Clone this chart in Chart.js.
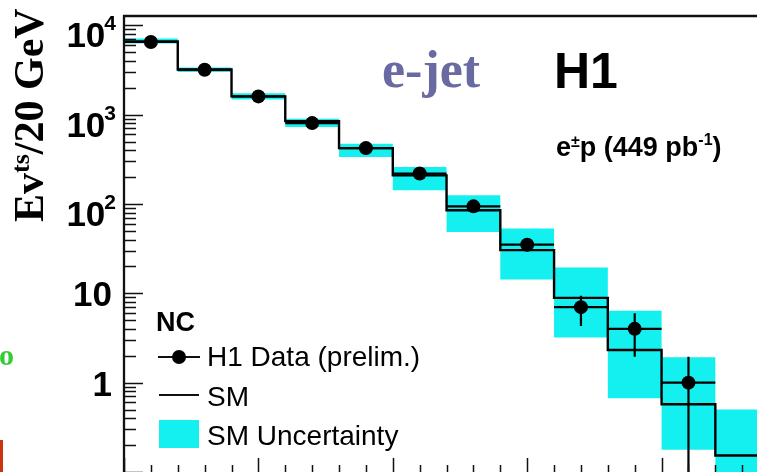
<!DOCTYPE html>
<html>
<head>
<meta charset="utf-8">
<script src="https://cdn.jsdelivr.net/npm/chart.js@4.4.1/dist/chart.umd.min.js"></script>
<style>
  html, body { margin: 0; padding: 0; background: #fff; }
  #wrap { width: 757px; height: 472px; position: relative; overflow: hidden; }
</style>
</head>
<body>
<div id="wrap"><canvas id="chart" width="757" height="472"></canvas></div>
<script>
// ── H1 e-jet spectrum ──
const binEdges = [100, 120, 140, 160, 180, 200, 220, 240, 260, 280, 300, 320, 340];
const dataCenters = [110, 130, 150, 170, 190, 210, 230, 250, 270, 290, 310];
const dataCounts = [6500, 3175, 1600, 804, 422, 219, 94, 35, 7, 4, 1];
const dataErrLow = [6400, 3120, 1560, 776, 402, 205, 85, 29.5, 4.3, 1.95, 0.01];
const dataErrHigh = [6600, 3230, 1640, 832, 442, 234, 104, 41, 9.4, 6.0, 1.95];
const smValues = [6600, 3200, 1600, 846, 422, 209, 85, 30.4, 8.9, 2.32, 0.574, 0.153];
const smBandLow = [6250, 3000, 1480, 725, 335, 142, 48.6, 14.3, 3.2, 0.67, 0.177, 0.05];
const smBandHigh = [7100, 3370, 1730, 900, 473, 259, 125, 53, 19.5, 6.4, 1.92, 0.5];
const yTickValues = [1, 10, 100, 1000, 10000];
const yTickBase = ['1', '10', '10', '10', '10'];
const yTickSup = ['', '', '2', '3', '4'];

const CYAN = '#14f0f0';

// histogram outline: one point per bin edge, last value repeated
const stepPoints = vals => binEdges.map((x, i) => ({ x, y: vals[Math.min(i, vals.length - 1)] }));

const errorBars = {
  id: 'errorBars',
  afterDatasetsDraw(chart) {
    const { ctx, chartArea: a, scales: { x, y } } = chart;
    ctx.save();
    ctx.beginPath(); ctx.rect(a.left, a.top, a.right - a.left, a.bottom - a.top); ctx.clip();
    ctx.strokeStyle = '#000';
    ctx.lineWidth = 2.2;
    dataCenters.forEach((c, i) => {
      const py = y.getPixelForValue(dataCounts[i]);
      ctx.beginPath();
      ctx.moveTo(x.getPixelForValue(binEdges[i]), py);
      ctx.lineTo(x.getPixelForValue(binEdges[i + 1]), py);
      const px = x.getPixelForValue(c);
      ctx.moveTo(px, y.getPixelForValue(dataErrLow[i]));
      ctx.lineTo(px, y.getPixelForValue(dataErrHigh[i]));
      ctx.stroke();
    });
    ctx.restore();
  }
};

const frame = {
  id: 'frame',
  afterDraw(chart) {
    const { ctx, chartArea: a, scales: { x, y } } = chart;
    ctx.save();
    ctx.strokeStyle = '#111';
    ctx.lineWidth = 2.3;
    ctx.beginPath();
    ctx.moveTo(a.left, a.bottom + 2); ctx.lineTo(a.left, a.top); ctx.lineTo(a.right + 5, a.top);
    ctx.stroke();

    // y ticks, inside the frame
    ctx.lineWidth = 1.5;
    ctx.beginPath();
    for (let d = -1; d <= 4; d++) {
      for (let k = 1; k <= 9; k++) {
        const v = k * Math.pow(10, d);
        if (v < y.min || v > y.max) continue;
        const py = Math.round(y.getPixelForValue(v)) + 0.5;
        ctx.moveTo(a.left, py);
        ctx.lineTo(a.left + (k === 1 ? 19 : 12), py);
      }
    }
    // x ticks, from the bottom
    for (let v = 100; v <= x.max; v += 10) {
      const px = Math.round(x.getPixelForValue(v)) + 0.5;
      ctx.moveTo(px, a.bottom);
      ctx.lineTo(px, a.bottom - (v % 50 === 0 ? 14 : 7));
    }
    ctx.stroke();

    // y tick labels
    ctx.fillStyle = '#000';
    ctx.textBaseline = 'alphabetic';
    yTickValues.forEach((v, i) => {
      const py = y.getPixelForValue(v);
      if (yTickSup[i]) {
        ctx.font = 'bold 21px "Liberation Sans", Arial, sans-serif';
        const ws = ctx.measureText(yTickSup[i]).width;
        ctx.textAlign = 'left';
        ctx.fillText(yTickSup[i], 116 - ws, py + 5);
        ctx.font = 'bold 35px "Liberation Sans", Arial, sans-serif';
        ctx.textAlign = 'right';
        ctx.fillText(yTickBase[i], 117 - ws, py + 22);
      } else {
        ctx.font = 'bold 35px "Liberation Sans", Arial, sans-serif';
        ctx.textAlign = 'right';
        ctx.fillText(yTickBase[i], 112, py + 13);
      }
    });

    // y axis title
    ctx.save();
    ctx.translate(43, 222);
    ctx.rotate(-Math.PI / 2);
    ctx.textAlign = 'left';
    ctx.font = 'bold 42px "Liberation Serif", "Times New Roman", serif';
    ctx.fillText('Ev', 0, 0);
    let off = ctx.measureText('Ev').width;
    ctx.font = 'bold 26px "Liberation Serif", "Times New Roman", serif';
    ctx.fillText('ts', off, -14);
    off += ctx.measureText('ts').width;
    ctx.font = 'bold 42px "Liberation Serif", "Times New Roman", serif';
    ctx.fillText('/20 GeV', off, 0);
    ctx.restore();

    // labels inside the frame
    ctx.textAlign = 'left';
    ctx.fillStyle = '#6a6aa2';
    ctx.font = 'bold 52px "Liberation Serif", "Times New Roman", serif';
    ctx.fillText('e-jet', 382, 87);
    ctx.fillStyle = '#000';
    ctx.font = 'bold 50px "Liberation Sans", Arial, sans-serif';
    ctx.fillText('H1', 554, 88);

    let tx = 556;
    const big = 'bold 27px "Liberation Sans", Arial, sans-serif';
    const small = 'bold 16px "Liberation Sans", Arial, sans-serif';
    [['e', big, 0], ['±', small, -9], ['p (449 pb', big, 0], ['-1', small, -11], [')', big, 0]].forEach(([s, f, dy]) => {
      ctx.font = f;
      ctx.fillText(s, tx, 156 + dy);
      tx += ctx.measureText(s).width;
    });

    // legend
    ctx.font = 'bold 27px "Liberation Sans", Arial, sans-serif';
    ctx.fillText('NC', 156, 331);
    ctx.font = '28px "Liberation Sans", Arial, sans-serif';
    ctx.lineWidth = 2.2;
    ctx.beginPath();
    ctx.moveTo(158, 357); ctx.lineTo(200, 357);
    ctx.moveTo(159, 395); ctx.lineTo(199, 395);
    ctx.stroke();
    ctx.beginPath(); ctx.arc(179, 357, 7, 0, Math.PI * 2); ctx.fill();
    ctx.fillStyle = CYAN;
    ctx.fillRect(159, 420, 40, 28);
    ctx.fillStyle = '#000';
    ctx.fillText('H1 Data (prelim.)', 207, 366);
    ctx.fillText('SM', 207, 406);
    ctx.fillText('SM Uncertainty', 207, 445);

    // bits of the surrounding slide
    ctx.fillStyle = '#33cc33';
    ctx.font = 'bold 30px "Liberation Serif", serif';
    ctx.fillText('o', -1, 365);
    ctx.fillStyle = '#cc3311';
    ctx.fillRect(0, 440, 3, 32);
    ctx.restore();
  }
};

new Chart(document.getElementById('chart'), {
  type: 'line',
  data: {
    datasets: [
      {
        label: 'H1 Data (prelim.)',
        data: dataCenters.map((x, i) => ({ x, y: dataCounts[i] })),
        showLine: false, pointRadius: 7, pointBorderWidth: 0,
        pointBackgroundColor: '#000', borderColor: '#000',
      },
      {
        label: 'SM',
        data: stepPoints(smValues),
        stepped: 'before', borderColor: '#000', borderWidth: 2.4,
        pointRadius: 0, fill: false,
      },
      {
        label: 'SM Uncertainty',
        data: stepPoints(smBandHigh),
        stepped: 'before', borderWidth: 0, pointRadius: 0,
        backgroundColor: CYAN, fill: '+1',
      },
      {
        label: 'band low',
        data: stepPoints(smBandLow),
        stepped: 'before', borderWidth: 0, pointRadius: 0, fill: false,
      },
    ],
  },
  options: {
    responsive: false, animation: false, devicePixelRatio: 1,
    layout: { autoPadding: false, padding: { left: 124, top: 16, right: 0, bottom: 0 } },
    plugins: { legend: { display: false }, tooltip: { enabled: false } },
    scales: {
      x: { type: 'linear', min: 100, max: 335.5, display: false },
      y: { type: 'logarithmic', min: 0.1, max: 12700, display: false },
    },
  },
  plugins: [errorBars, frame],
});
</script>
</body>
</html>
